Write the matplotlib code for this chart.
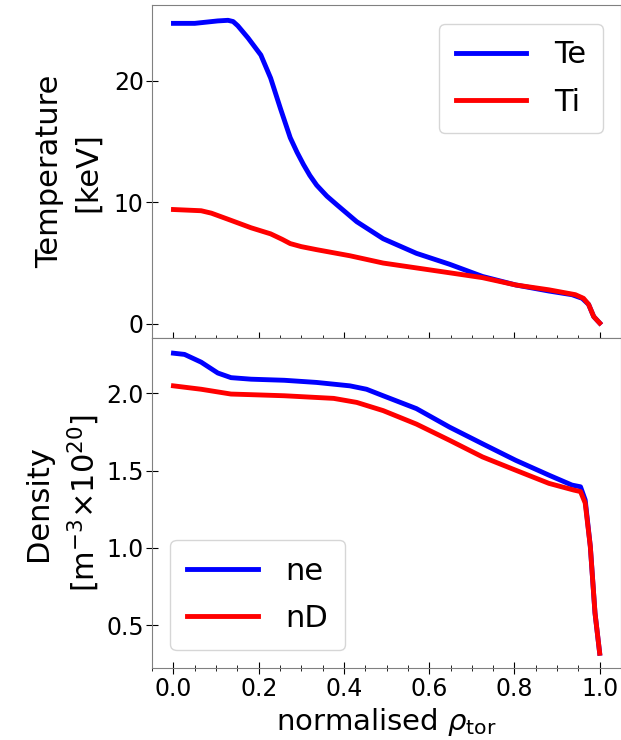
import matplotlib
matplotlib.use("Agg")
import matplotlib.pyplot as plt
from matplotlib.ticker import MultipleLocator

# perfis de temperatura (keV)
rho_T = [0.0, 0.05, 0.104, 0.128, 0.14, 0.151, 0.175, 0.205, 0.228, 0.251, 0.274,
         0.29, 0.305, 0.32, 0.336, 0.36, 0.383, 0.43, 0.492, 0.57, 0.648,
         0.725, 0.803, 0.881, 0.935, 0.959, 0.974, 0.986, 1.0]
Te = [24.7, 24.7, 24.9, 24.95, 24.85, 24.5, 23.5, 22.1, 20.2, 17.7, 15.3,
      14.1, 13.1, 12.2, 11.4, 10.5, 9.8, 8.4, 7.0, 5.8, 4.9,
      3.9, 3.2, 2.7, 2.4, 2.1, 1.6, 0.6, 0.07]

rho_Ti = [0.0, 0.065, 0.089, 0.128, 0.182, 0.228, 0.255, 0.274, 0.3, 0.336,
          0.414, 0.492, 0.57, 0.648, 0.725, 0.803, 0.881, 0.943, 0.962, 0.974,
          0.986, 1.0]
Ti = [9.4, 9.3, 9.1, 8.6, 7.9, 7.4, 6.95, 6.6, 6.35, 6.1,
      5.6, 5.0, 4.6, 4.2, 3.8, 3.2, 2.8, 2.4, 2.1, 1.6,
      0.6, 0.07]

# perfis de densidade (1e20 m^-3)
rho_ne = [0.0, 0.026, 0.065, 0.104, 0.135, 0.182, 0.26, 0.336, 0.414, 0.453,
          0.492, 0.57, 0.648, 0.725, 0.803, 0.881, 0.935, 0.955, 0.966, 0.978,
          0.989, 1.0]
ne = [2.258, 2.25, 2.2, 2.13, 2.1, 2.09, 2.083, 2.069, 2.047, 2.025,
      1.983, 1.9, 1.78, 1.673, 1.566, 1.47, 1.406, 1.395, 1.31, 1.01,
      0.58, 0.32]

rho_nD = [0.0, 0.065, 0.135, 0.182, 0.26, 0.376, 0.43, 0.492, 0.57, 0.648,
          0.725, 0.803, 0.881, 0.939, 0.955, 0.966, 0.978, 0.989, 1.0]
nD = [2.047, 2.025, 1.994, 1.99, 1.983, 1.966, 1.94, 1.887, 1.8, 1.695,
      1.588, 1.502, 1.417, 1.374, 1.364, 1.29, 1.01, 0.58, 0.32]

fig = plt.figure(figsize=(6.21, 7.4), dpi=100)
ax1 = fig.add_axes([0.245, 0.543, 0.755, 0.45])
ax2 = fig.add_axes([0.245, 0.097, 0.755, 0.446], sharex=ax1)

ax1.plot(rho_T, Te, color="blue", lw=3.5, label="Te")
ax1.plot(rho_Ti, Ti, color="red", lw=3.5, label="Ti")
ax2.plot(rho_ne, ne, color="blue", lw=3.5, label="ne")
ax2.plot(rho_nD, nD, color="red", lw=3.5, label="nD")

ax1.set_yticks([0, 10, 20])
ax2.set_yticks([0.5, 1.0, 1.5, 2.0])
ax1.xaxis.set_minor_locator(MultipleLocator(0.05))
ax2.xaxis.set_major_locator(MultipleLocator(0.2))
ax1.tick_params(labelbottom=False)

for ax in (ax1, ax2):
    ax.tick_params(axis="both", which="major", direction="inout", length=8,
                   labelsize=17, color="k", pad=2)
    ax.tick_params(axis="x", which="minor", direction="inout", length=5)
    for s in ax.spines.values():
        s.set_color("gray")

ax1.set_ylabel("Temperature\n[keV]", fontsize=22, linespacing=1.4)
ax2.set_ylabel("Density\n[m$^{-3}$\u00d710$^{20}$]", fontsize=22,
               linespacing=1.45)
ax2.set_xlabel(r"normalised $\rho_{\mathrm{tor}}$", fontsize=21)
ax1.yaxis.set_label_coords(-0.107, 0.5)
ax2.yaxis.set_label_coords(-0.107, 0.5)

ax1.legend(loc="upper right", fontsize=22, handlelength=2.3,
           borderpad=0.55, handletextpad=0.9, labelspacing=0.6,
           borderaxespad=0.6)
ax2.legend(loc="lower left", fontsize=22, handlelength=2.3,
           borderpad=0.55, handletextpad=0.9, labelspacing=0.6,
           borderaxespad=0.6)

fig.savefig("out.png", dpi=100)
